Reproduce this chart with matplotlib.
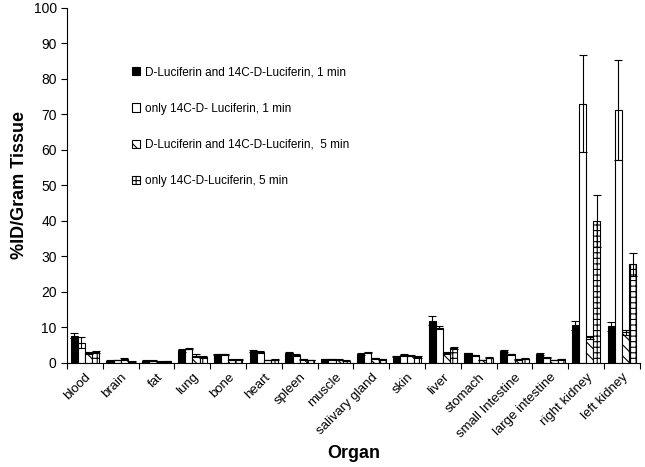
import numpy as np
import matplotlib
matplotlib.use('Agg')
import matplotlib.pyplot as plt

plt.rcParams['font.family'] = ['Liberation Sans', 'DejaVu Sans']
plt.rcParams['hatch.linewidth'] = 0.8

organs = ['blood', 'brain', 'fat', 'lung', 'bone', 'heart', 'spleen', 'muscle',
          'salivary gland', 'skin', 'liver', 'stomach', 'small Intestine',
          'large intestine', 'right kidney', 'left kidney']

labels = ['D-Luciferin and 14C-D-Luciferin, 1 min',
          'only 14C-D- Luciferin, 1 min',
          'D-Luciferin and 14C-D-Luciferin,  5 min',
          'only 14C-D-Luciferin, 5 min']

both_1min = [7.7, 0.6, 0.6, 3.5, 2.4, 3.3, 2.7, 1.0, 2.5, 1.8, 11.9, 2.7, 3.3, 2.5, 10.6, 10.3]
only_1min = [5.7, 0.8, 0.6, 4.0, 2.4, 3.1, 2.1, 1.0, 2.9, 2.2, 9.9, 2.1, 2.4, 1.5, 73.0, 71.2]
both_5min = [2.8, 1.2, 0.3, 2.0, 0.9, 0.8, 1.0, 0.9, 1.3, 2.0, 2.8, 0.8, 1.0, 0.8, 7.2, 8.6]
only_5min = [3.1, 0.3, 0.4, 1.6, 0.9, 0.9, 0.8, 0.6, 1.0, 1.6, 4.1, 1.5, 1.2, 1.0, 40.0, 27.8]

err_both_1min = [0.8, 0.1, 0.1, 0.3, 0.1, 0.2, 0.3, 0.1, 0.2, 0.2, 1.2, 0.2, 0.3, 0.2, 1.3, 1.2]
err_only_1min = [1.5, 0.1, 0.1, 0.2, 0.1, 0.2, 0.3, 0.1, 0.2, 0.2, 0.5, 0.2, 0.2, 0.1, 13.7, 14.0]
err_both_5min = [0.4, 0.3, 0.1, 0.4, 0.1, 0.1, 0.1, 0.1, 0.1, 0.2, 0.3, 0.1, 0.1, 0.1, 0.4, 0.7]
err_only_5min = [0.3, 0.1, 0.1, 0.2, 0.1, 0.1, 0.1, 0.1, 0.1, 0.2, 0.3, 0.2, 0.1, 0.1, 7.3, 3.2]

series = [both_1min, only_1min, both_5min, only_5min]
errors = [err_both_1min, err_only_1min, err_both_5min, err_only_5min]
faces = ['black', 'white', 'white', 'white']
hatches = [None, None, '\\\\\\', '+++']

fig = plt.figure(figsize=(6.45, 4.67), dpi=100)
ax = fig.add_axes([0.104, 0.223, 0.888, 0.760])

x = np.arange(len(organs))
w = 0.2
for k in range(4):
    ax.bar(x + (k - 1.5) * w, series[k], w, color=faces[k], edgecolor='black',
           linewidth=0.8, hatch=hatches[k], label=labels[k],
           yerr=errors[k], capsize=3,
           error_kw=dict(ecolor='black', elinewidth=0.8, capthick=0.8))

ax.set_xlim(-0.5, len(organs) - 0.5)
ax.set_ylim(0, 100)
ax.set_yticks(np.arange(0, 101, 10))
ax.set_xticks(np.arange(len(organs) + 1) - 0.5)
ax.set_xticklabels([])
ax.set_xticks(x, minor=True)
ax.set_xticklabels(organs, minor=True, rotation=45, ha='right',
                   rotation_mode='anchor', fontsize=9.5)
ax.tick_params(axis='x', which='minor', length=0, pad=6)
ax.tick_params(axis='x', which='major', length=4)
ax.tick_params(axis='y', labelsize=10, length=4)

for s in ['top', 'right']:
    ax.spines[s].set_visible(False)

ax.set_ylabel('%ID/Gram Tissue', fontsize=13, fontweight='bold')
ax.set_xlabel('Organ', fontsize=13, fontweight='bold')

ax.legend(loc='upper left', bbox_to_anchor=(0.095, 0.865), frameon=False,
          fontsize=8.5, labelspacing=2.05, handlelength=0.7, handleheight=0.7,
          handletextpad=0.4)

fig.savefig('out.png', dpi=100)
